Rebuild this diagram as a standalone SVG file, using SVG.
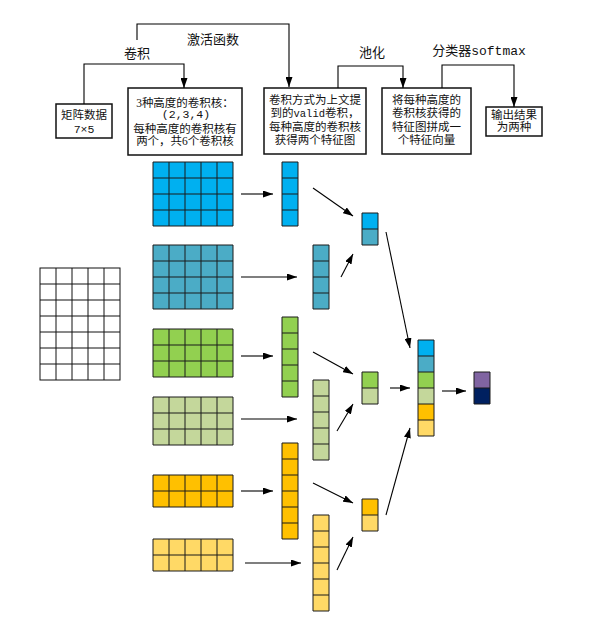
<svg xmlns="http://www.w3.org/2000/svg" width="600" height="635" viewBox="0 0 600 635">
<defs>
<style>
.c{stroke:#1a1a1a;stroke-width:1}
.b1{fill:#00B0F0}.b2{fill:#4BACC6}.g1{fill:#92D050}.g2{fill:#C4D79B}.o1{fill:#FFC000}.o2{fill:#FFD966}.p1{fill:#8064A2}.n1{fill:#002060}
.box{fill:#fff;stroke:#111;stroke-width:1.5}
.t{font-family:"Liberation Serif","Noto Sans CJK SC",serif;font-size:11.5px;fill:#111;text-anchor:middle}
.lbl{font-family:"Liberation Serif","Noto Sans CJK SC",serif;font-size:13px;fill:#111;text-anchor:middle}
.m{font-family:"Liberation Mono","Noto Sans CJK SC",monospace}
.ln{fill:none;stroke:#000;stroke-width:1.1}
</style>
<marker id="ah" viewBox="0 0 10 7" refX="10" refY="3.5" markerWidth="10" markerHeight="7" markerUnits="userSpaceOnUse" orient="auto">
<path d="M0,0 L10,3.5 L0,7 z" fill="#000"/>
</marker>
</defs>
<rect width="600" height="635" fill="#fff"/>

<!-- top boxes -->
<g id="box-matrix">
<rect class="box" x="56" y="104" width="56" height="34"/>
<text class="t" x="84" y="118.5">矩阵数据</text>
<text class="t m" x="84" y="132.5">7×5</text>
</g>
<g id="box-kernels">
<rect class="box" x="128" y="88" width="114" height="67"/>
<text class="t" x="185" y="107">3种高度的卷积核：</text>
<text class="t m" x="186" y="117.5">(2,3,4)</text>
<text class="t" x="185" y="132.5">每种高度的卷积核有</text>
<text class="t" x="185" y="144.5">两个，共6个卷积核</text>
</g>
<g id="box-conv">
<rect class="box" x="264" y="88" width="102" height="66"/>
<text class="t" x="315" y="104">卷积方式为上文提</text>
<text class="t" x="315" y="117">到的<tspan class="m" font-size="10.5px">valid</tspan>卷积，</text>
<text class="t" x="315" y="130.5">每种高度的卷积核</text>
<text class="t" x="315" y="144">获得两个特征图</text>
</g>
<g id="box-pool">
<rect class="box" x="382" y="88" width="89" height="66"/>
<text class="t" x="426.5" y="104">将每种高度的</text>
<text class="t" x="426.5" y="117">卷积核获得的</text>
<text class="t" x="426.5" y="130.5">特征图拼成一</text>
<text class="t" x="426.5" y="144">个特征向量</text>
</g>
<g id="box-output">
<rect class="box" x="486" y="107" width="56" height="29"/>
<text class="t" x="514" y="119">输出结果</text>
<text class="t" x="514" y="131">为两种</text>
</g>

<!-- input matrix 7x5 -->
<g id="input-matrix">
<rect x="40" y="268" width="80" height="112" fill="#fff" stroke="#111" stroke-width="1"/>
<path d="M56,268V380M72,268V380M88,268V380M104,268V380M40,284H120M40,300H120M40,316H120M40,332H120M40,348H120M40,364H120" stroke="#111" stroke-width="1" fill="none"/>
</g>

<!-- kernels -->
<g id="kernel-1">
<rect class="b1" x="153" y="162" width="80" height="64"/>
<path class="c" fill="none" d="M153,162h80v64h-80zM169,162v64M185,162v64M201,162v64M217,162v64M153,178h80M153,194h80M153,210h80"/>
</g>
<g id="kernel-2">
<rect class="b2" x="153" y="245" width="80" height="64"/>
<path class="c" fill="none" d="M153,245h80v64h-80zM169,245v64M185,245v64M201,245v64M217,245v64M153,261h80M153,277h80M153,293h80"/>
</g>
<g id="kernel-3">
<rect class="g1" x="153" y="329" width="80" height="48"/>
<path class="c" fill="none" d="M153,329h80v48h-80zM169,329v48M185,329v48M201,329v48M217,329v48M153,345h80M153,361h80"/>
</g>
<g id="kernel-4">
<rect class="g2" x="153" y="397" width="80" height="48"/>
<path class="c" fill="none" d="M153,397h80v48h-80zM169,397v48M185,397v48M201,397v48M217,397v48M153,413h80M153,429h80"/>
</g>
<g id="kernel-5">
<rect class="o1" x="153" y="475" width="80" height="32"/>
<path class="c" fill="none" d="M153,475h80v32h-80zM169,475v32M185,475v32M201,475v32M217,475v32M153,491h80"/>
</g>
<g id="kernel-6">
<rect class="o2" x="153" y="539" width="80" height="32"/>
<path class="c" fill="none" d="M153,539h80v32h-80zM169,539v32M185,539v32M201,539v32M217,539v32M153,555h80"/>
</g>

<!-- feature maps -->
<g id="fmap-1">
<rect class="b1" x="282" y="162" width="16" height="64"/>
<path class="c" fill="none" d="M282,162h16v64h-16zM282,178h16M282,194h16M282,210h16"/>
</g>
<g id="fmap-2">
<rect class="b2" x="313" y="245" width="16" height="64"/>
<path class="c" fill="none" d="M313,245h16v64h-16zM313,261h16M313,277h16M313,293h16"/>
</g>
<g id="fmap-3">
<rect class="g1" x="282" y="317" width="16" height="80"/>
<path class="c" fill="none" d="M282,317h16v80h-16zM282,333h16M282,349h16M282,365h16M282,381h16"/>
</g>
<g id="fmap-4">
<rect class="g2" x="313" y="380" width="16" height="80"/>
<path class="c" fill="none" d="M313,380h16v80h-16zM313,396h16M313,412h16M313,428h16M313,444h16"/>
</g>
<g id="fmap-5">
<rect class="o1" x="282" y="443" width="16" height="96"/>
<path class="c" fill="none" d="M282,443h16v96h-16zM282,459h16M282,475h16M282,491h16M282,507h16M282,523h16"/>
</g>
<g id="fmap-6">
<rect class="o2" x="313" y="515" width="16" height="96"/>
<path class="c" fill="none" d="M313,515h16v96h-16zM313,531h16M313,547h16M313,563h16M313,579h16M313,595h16"/>
</g>

<!-- pooled -->
<g id="pool-1">
<rect class="b1" x="362" y="213" width="16" height="16"/>
<rect class="b2" x="362" y="229" width="16" height="16"/>
<path class="c" fill="none" d="M362,213h16v32h-16zM362,229h16"/>
</g>
<g id="pool-2">
<rect class="g1" x="362" y="372" width="16" height="16"/>
<rect class="g2" x="362" y="388" width="16" height="16"/>
<path class="c" fill="none" d="M362,372h16v32h-16zM362,388h16"/>
</g>
<g id="pool-3">
<rect class="o1" x="362" y="499" width="16" height="16"/>
<rect class="o2" x="362" y="515" width="16" height="16"/>
<path class="c" fill="none" d="M362,499h16v32h-16zM362,515h16"/>
</g>

<!-- concatenated vector -->
<g id="concat">
<rect class="b1" x="418" y="340" width="16" height="16"/>
<rect class="b2" x="418" y="356" width="16" height="16"/>
<rect class="g1" x="418" y="372" width="16" height="16"/>
<rect class="g2" x="418" y="388" width="16" height="16"/>
<rect class="o1" x="418" y="404" width="16" height="16"/>
<rect class="o2" x="418" y="420" width="16" height="16"/>
<path class="c" fill="none" d="M418,340h16v96h-16zM418,356h16M418,372h16M418,388h16M418,404h16M418,420h16"/>
</g>

<!-- output -->
<g id="output">
<rect class="p1" x="474" y="372" width="16" height="16"/>
<rect class="n1" x="474" y="388" width="16" height="16"/>
<path class="c" fill="none" d="M474,372h16v32h-16zM474,388h16"/>
</g>

<!-- labels -->
<g id="labels">
<text class="lbl" x="137" y="58">卷积</text>
<text class="lbl" x="213" y="44">激活函数</text>
<text class="lbl" x="372" y="57">池化</text>
<text class="lbl" x="479" y="55">分类器<tspan class="m">softmax</tspan></text>
</g>

<!-- connectors -->
<g id="connectors">
<polyline class="ln" points="84,104 84,64 184,64 184,88" marker-end="url(#ah)"/>
<polyline class="ln" points="137,40 137,24 289,24 289,87" marker-end="url(#ah)"/>
<polyline class="ln" points="338,88 338,66 403,66 403,88" marker-end="url(#ah)"/>
<polyline class="ln" points="442,88 442,65 514,65 514,107" marker-end="url(#ah)"/>

<line class="ln" x1="241" y1="194" x2="273" y2="194" marker-end="url(#ah)"/>
<line class="ln" x1="241" y1="277" x2="297" y2="277" marker-end="url(#ah)"/>
<line class="ln" x1="241" y1="356" x2="273" y2="356" marker-end="url(#ah)"/>
<line class="ln" x1="241" y1="419" x2="297" y2="419" marker-end="url(#ah)"/>
<line class="ln" x1="241" y1="491" x2="273" y2="491" marker-end="url(#ah)"/>
<line class="ln" x1="245" y1="563" x2="301" y2="563" marker-end="url(#ah)"/>

<line class="ln" x1="313" y1="188" x2="353" y2="216" marker-end="url(#ah)"/>
<line class="ln" x1="341" y1="277" x2="353" y2="254" marker-end="url(#ah)"/>
<line class="ln" x1="313" y1="352" x2="353" y2="374" marker-end="url(#ah)"/>
<line class="ln" x1="337" y1="431" x2="353" y2="404" marker-end="url(#ah)"/>
<line class="ln" x1="313" y1="483" x2="353" y2="503" marker-end="url(#ah)"/>
<line class="ln" x1="337" y1="570" x2="353" y2="537" marker-end="url(#ah)"/>

<line class="ln" x1="386" y1="232" x2="410" y2="348" marker-end="url(#ah)"/>
<line class="ln" x1="390" y1="388" x2="410" y2="388" marker-end="url(#ah)"/>
<line class="ln" x1="386" y1="515" x2="410" y2="428" marker-end="url(#ah)"/>
<line class="ln" x1="442" y1="391" x2="466" y2="391" marker-end="url(#ah)"/>
</g>
</svg>
